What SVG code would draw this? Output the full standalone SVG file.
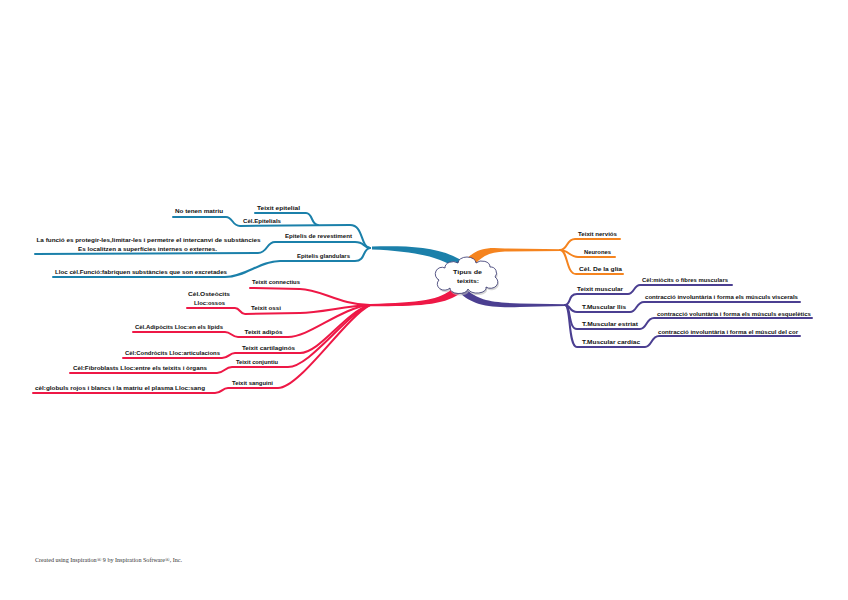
<svg xmlns="http://www.w3.org/2000/svg" width="848" height="600" viewBox="0 0 848 600">
<style>
.t{font-family:"Liberation Sans",Arial,sans-serif;font-size:6px;font-weight:bold;fill:#111;text-anchor:middle}
.l{fill:none;stroke-width:2;stroke-linecap:round;stroke-linejoin:round}
.b{stroke:#1b80aa}.o{stroke:#f5841f}.p{stroke:#4b3f91}.r{stroke:#ee1846}
.fb{fill:#1b80aa}.fo{fill:#f5841f}.fp{fill:#4b3f91}.fr{fill:#ee1846}
.foot{font-family:"Liberation Serif","Times New Roman",serif;font-size:6px;fill:#333}
</style>
<rect width="848" height="600" fill="#fff"/>
<g id="connectors">
  <!-- main thick branches -->
  <path class="fb" d="M372,246.5 C410,246 440,246 466,263 L457,269 C440,256 410,251 372,249.5 Z"/>
  <path class="fo" d="M463,263 C475,248 486,247 505,248.5 L562,249.2 L562,251 L505,251.5 C490,252 481,256 473,267 Z"/>
  <path class="fp" d="M466,289 C478,300 490,302.5 520,303.5 L566,304.2 L566,306 L520,307 C488,308 472,305 459,292 Z"/>
  <path class="fr" d="M453,288 C441,300 420,302.5 370,304 L370,306.2 C420,306.5 446,305 462,292 Z"/>
  <!-- blue -->
  <path class="l b" d="M370,248 C360,247 364,225 350,225 L240,226 C232,226 233,217 226,217 L173,217"/>
  <path class="l b" d="M318,225 C311,225 313,213 306,213 L255,213"/>
  <path class="l b" d="M370,248 C362,247 365,242 355,242 L275,242 C266,242 268,253 258,253 L35,254"/>
  <path class="l b" d="M370,248 C362,249 366,261 355,261 L280,261 C260,261 245,277 225,277 L53,277"/>
  <!-- orange -->
  <path class="l o" d="M560,250 C568,250 566,239 575,239 L620,239"/>
  <path class="l o" d="M560,250 C568,250 570,257 578,257 L615,257"/>
  <path class="l o" d="M560,250 C568,250 566,274 576,274 L623,274"/>
  <!-- purple -->
  <path class="l p" d="M565,305 C571,305 568,294 577,294 L628,294 C634,294 634,285 640,285 L732,285"/>
  <path class="l p" d="M565,305 C571,305 569,312 577,312 L630,312 C637,312 636,302 644,302 L800,302"/>
  <path class="l p" d="M565,305 C571,305 568,329 577,329 L640,329 C647,329 646,318 654,318 L812,318"/>
  <path class="l p" d="M565,305 C571,305 568,347 577,347 L645,347 C652,347 651,336 659,336 L800,336"/>
  <!-- red -->
  <path class="l r" d="M370,305 C340,305 320,289 300,289 L250,288"/>
  <path class="l r" d="M370,305 C345,306 320,313 300,313 L245,314 C240,314 240,308 235,308 L187,308"/>
  <path class="l r" d="M370,305 C340,308 310,337 288,337 L238,337 C232,337 231,332 225,332 L133,332"/>
  <path class="l r" d="M370,305 C345,312 320,353 300,353 L235,353 C229,353 229,358 222,358 L123,358"/>
  <path class="l r" d="M370,305 C345,315 310,367 288,367 L232,367 C225,367 224,373 217,373 L70,373"/>
  <path class="l r" d="M370,305 C345,318 300,388 278,388 L228,388 C222,388 222,393 215,393 L33,393"/>
</g>
<g id="central">
  <path d="M446,270 A8,6 0 0 1 459,265 A9,6 0 0 1 477,265 A8,6 0 0 1 491,269 A6,6 0 0 1 496,279 A7,6 0 0 1 487,289 A9,5 0 0 1 469,291 A9,5 0 0 1 451,290 A7,6 0 0 1 440,282 A6,6 0 0 1 446,270 Z" fill="#bbb" opacity="0.6"/>
  <path d="M445,268 A8,6 0 0 1 458,263 A9,6 0 0 1 476,263 A8,6 0 0 1 490,267 A6,6 0 0 1 495,277 A7,6 0 0 1 486,287 A9,5 0 0 1 468,289 A9,5 0 0 1 450,288 A7,6 0 0 1 439,280 A6,6 0 0 1 445,268 Z" fill="#fff" stroke="#2f2f6a" stroke-width="0.8"/>
  <text class="t" x="467.5" y="274" textLength="29" lengthAdjust="spacingAndGlyphs">Tipus de</text>
  <text class="t" x="468" y="283" textLength="22" lengthAdjust="spacingAndGlyphs">teixits:</text>
</g>
<g id="n-teixit-epitelial"><text class="t" x="278.5" y="210" textLength="43" lengthAdjust="spacingAndGlyphs">Teixit epitelial</text></g>
<g id="n-no-tenen-matriu"><text class="t" x="199" y="213" textLength="48" lengthAdjust="spacingAndGlyphs">No tenen matriu</text></g>
<g id="n-cel-epitelials"><text class="t" x="262" y="223" textLength="38" lengthAdjust="spacingAndGlyphs">Cèl.Epitelials</text></g>
<g id="n-epitelis-revestiment"><text class="t" x="318.5" y="238" textLength="67" lengthAdjust="spacingAndGlyphs">Epitelis de revestiment</text></g>
<g id="n-funcio">
  <text class="t" x="148.5" y="242" textLength="224" lengthAdjust="spacingAndGlyphs">La funció es protegir-les,limitar-les i permetre el intercanvi de substàncies</text>
  <text class="t" x="147.5" y="251" textLength="139" lengthAdjust="spacingAndGlyphs">Es localitzen a superfícies internes o externes.</text>
</g>
<g id="n-epitelis-glandulars"><text class="t" x="323.5" y="258" textLength="53" lengthAdjust="spacingAndGlyphs">Epitelis glandulars</text></g>
<g id="n-lloc-cel-funcio"><text class="t" x="141" y="274" textLength="172" lengthAdjust="spacingAndGlyphs">Lloc cèl.Funció:fabriquen substàncies que son excretades</text></g>
<g id="n-teixit-nervios"><text class="t" x="597.5" y="236" textLength="39" lengthAdjust="spacingAndGlyphs">Teixit nerviós</text></g>
<g id="n-neurones"><text class="t" x="597.5" y="254" textLength="27" lengthAdjust="spacingAndGlyphs">Neurones</text></g>
<g id="n-cel-glia"><text class="t" x="600.5" y="271" textLength="43" lengthAdjust="spacingAndGlyphs">Cèl. De la glia</text></g>
<g id="n-teixit-muscular"><text class="t" x="600" y="291" textLength="46" lengthAdjust="spacingAndGlyphs">Teixit muscular</text></g>
<g id="n-miocits"><text class="t" x="685" y="282" textLength="86" lengthAdjust="spacingAndGlyphs">Cèl:miòcits o fibres musculars</text></g>
<g id="n-muscular-llis"><text class="t" x="604" y="309" textLength="44" lengthAdjust="spacingAndGlyphs">T.Muscular llis</text></g>
<g id="n-llis-desc"><text class="t" x="721.5" y="299" textLength="153" lengthAdjust="spacingAndGlyphs">contracció involuntària i forma els músculs viscerals</text></g>
<g id="n-muscular-estriat"><text class="t" x="610" y="326" textLength="56" lengthAdjust="spacingAndGlyphs">T.Muscular estriat</text></g>
<g id="n-estriat-desc"><text class="t" x="734" y="316" textLength="154" lengthAdjust="spacingAndGlyphs">contracció voluntària i forma els músculs esquelètics</text></g>
<g id="n-muscular-cardiac"><text class="t" x="611" y="344" textLength="58" lengthAdjust="spacingAndGlyphs">T.Muscular cardíac</text></g>
<g id="n-cardiac-desc"><text class="t" x="728" y="334" textLength="140" lengthAdjust="spacingAndGlyphs">contracció involuntària i forma el múscul del cor</text></g>
<g id="n-teixit-connectius"><text class="t" x="276" y="284" textLength="48" lengthAdjust="spacingAndGlyphs">Teixit connectius</text></g>
<g id="n-osteocits">
  <text class="t" x="209" y="296" textLength="42" lengthAdjust="spacingAndGlyphs">Cèl.Osteòcits</text>
  <text class="t" x="209.5" y="305" textLength="31" lengthAdjust="spacingAndGlyphs">Lloc:ossos</text>
</g>
<g id="n-teixit-ossi"><text class="t" x="266" y="310" textLength="30" lengthAdjust="spacingAndGlyphs">Teixit ossi</text></g>
<g id="n-adipocits"><text class="t" x="179" y="329" textLength="88" lengthAdjust="spacingAndGlyphs">Cèl.Adipòcits Lloc:en els lípids</text></g>
<g id="n-teixit-adipos"><text class="t" x="263.5" y="334" textLength="38" lengthAdjust="spacingAndGlyphs">Teixit adipós</text></g>
<g id="n-teixit-cartilaginos"><text class="t" x="268.5" y="350" textLength="53" lengthAdjust="spacingAndGlyphs">Teixit cartilaginós</text></g>
<g id="n-condrocits"><text class="t" x="172.5" y="355" textLength="95" lengthAdjust="spacingAndGlyphs">Cèl:Condròcits Lloc:articulacions</text></g>
<g id="n-teixit-conjuntiu"><text class="t" x="257" y="364" textLength="42" lengthAdjust="spacingAndGlyphs">Teixit conjuntiu</text></g>
<g id="n-teixit-sanguini"><text class="t" x="252.5" y="385" textLength="41" lengthAdjust="spacingAndGlyphs">Teixit sanguini</text></g>
<g id="n-fibroblasts"><text class="t" x="140" y="370" textLength="134" lengthAdjust="spacingAndGlyphs">Cèl:Fibroblasts Lloc:entre els teixits i òrgans</text></g>
<g id="n-globuls"><text class="t" x="120" y="390" textLength="170" lengthAdjust="spacingAndGlyphs">cèl:globuls rojos i blancs i la matriu el plasma Lloc:sang</text></g>
<text class="foot" x="35" y="562" textLength="147" lengthAdjust="spacingAndGlyphs">Created using Inspiration® 9 by Inspiration Software®, Inc.</text>
</svg>
